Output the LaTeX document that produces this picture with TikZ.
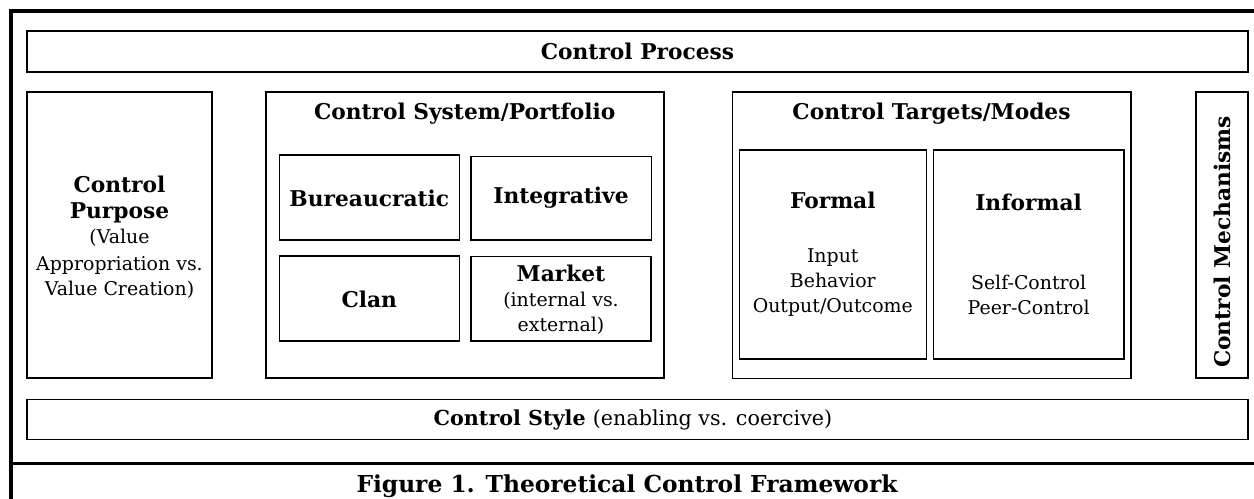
\documentclass[tikz,border=0pt]{standalone}
\usepackage{fontspec}
\setmainfont{DejaVu Serif}
\newcommand{\hdfont}{\fontsize{16.3}{19.5}\selectfont\bfseries}
\begin{document}
\begin{tikzpicture}[x=0.75pt,y=-0.75pt,
  box/.style={draw=black, line width=1.2pt},
  frameline/.style={draw=black, line width=2.3pt},
  title/.style={font=\hdfont},
  body/.style={font=\fontsize{14.2}{18.75}\selectfont, align=center},
  caption/.style={font=\fontsize{17.5}{20}\selectfont\bfseries}]
\useasboundingbox (0,0) rectangle (1254,499);

% outer frame and caption separator
\draw[frameline] (11,499) -- (11,11) -- (1256,11);
\draw[frameline] (11,463.7) -- (1256,463.7);

% top and bottom bands
\draw[box] (27,31) rectangle (1248,72);
\node[title] (process) at (637.5,51.5) {Control Process};
\draw[box] (27,399.5) rectangle (1248,439.5);
\node[title, font=\fontsize{15.5}{19}\selectfont\bfseries] (style) at (633,419.5)
  {Control Style \mdseries(enabling vs. coercive)};

% control purpose
\draw[box] (27,92.3) rectangle (212,378);
\node[body] (purpose) at (119.5,237.5)
  {{\hdfont Control}\\[1pt]
   {\hdfont Purpose}\\
   (Value\\[1.5pt] Appropriation vs.\\ Value Creation)};

% control system / portfolio
\draw[box] (265.7,92.3) rectangle (663.7,378);
\node[title] (system) at (464.7,113.5) {Control System/Portfolio};
\draw[box] (279.3,155) rectangle (459.3,240);
\node[title] (bureau) at (369.3,198) {Bureaucratic};
\draw[box] (471,156.7) rectangle (651.3,240);
\node[title] (integr) at (561,198) {Integrative};
\draw[box] (279.3,256) rectangle (459.3,341);
\node[title] (clan) at (369.3,299.5) {Clan};
\draw[box] (471,256.7) rectangle (650.7,341);
\node[body] (market) at (561,299.5)
  {{\hdfont Market}\\ (internal vs.\\ external)};

% control targets / modes
\draw[box] (732.3,92.3) rectangle (1130.7,378.3);
\node[title] (targets) at (931.5,113.5) {Control Targets/Modes};
\draw[box] (739.3,150) rectangle (926.3,359);
\node[body] (formal) at (832.8,254.5)
  {{\hdfont Formal}\\[22pt]
   Input\\ Behavior\\ Output/Outcome};
\draw[box] (933.3,150) rectangle (1124,359);
\node[body] (informal) at (1028.6,254.5)
  {{\hdfont Informal}\\[41pt]
   Self-Control\\ Peer-Control};

% control mechanisms
\draw[box] (1196,92.3) rectangle (1248,378);
\node[title, rotate=90] (mech) at (1222,242) {Control Mechanisms};

% caption
\node[caption, anchor=base] (cap) at (627,492) {Figure 1. Theoretical Control Framework};
\end{tikzpicture}
\end{document}
